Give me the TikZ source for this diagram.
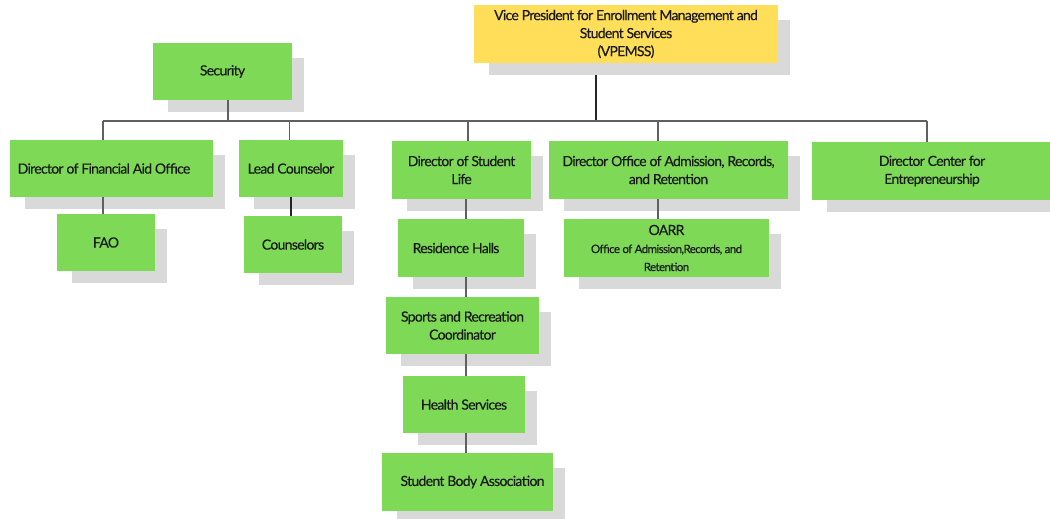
\documentclass[tikz,border=0pt]{standalone}
\usepackage{fontspec}
\setmainfont{Lato}[LetterSpace=-5,FakeBold=0.3]
\usetikzlibrary{calc}
\pgfdeclarelayer{bg}
\pgfdeclarelayer{back}
\pgfdeclarelayer{mid}
\pgfsetlayers{bg,back,mid,main}
\definecolor{boxgreen}{HTML}{7ED957}
\definecolor{boxyellow}{HTML}{FFDE59}
\definecolor{shadowc}{HTML}{D9D9D9}
\definecolor{linec}{HTML}{606060}
\definecolor{txtc}{HTML}{1A1A1A}
\newcommand\mainfs{\fontsize{14}{18}\selectfont}
\newcommand\subfs{\fontsize{11.5}{16}\selectfont}
\begin{document}
\begin{tikzpicture}[x=1pt,y=-1pt,
  box/.style={fill=boxgreen, draw=none, inner sep=0pt, align=center, font=\mainfs, text=txtc},
  conn/.style={draw=linec, line width=1.8pt},
  darkconn/.style={draw=black!85, line width=1.3pt},
  shadowbox/.style={fill=shadowc}]
\begin{pgfonlayer}{bg}
  \fill[white] (0,0) rectangle (1050,519);
\end{pgfonlayer}
\useasboundingbox (0,0) rectangle (1050,519);

\node[box, fill=boxyellow, minimum width=304pt, minimum height=58pt] (vp) at (626,34)
  {Vice President for Enrollment Management and\\Student Services\\(VPEMSS)};
\node[box, minimum width=139pt, minimum height=57pt] (sec) at (222.5,71.5) {\raisebox{-3pt}{Security}};
\node[box, minimum width=203pt, minimum height=57pt] (fin) at (111.5,168.5) {\hspace*{-15pt}Director of Financial Aid Office};
\node[box, minimum width=104pt, minimum height=57pt] (lead) at (291,168.5) {Lead Counselor};
\node[box, minimum width=139pt, minimum height=58pt] (life) at (461.5,170) {Director of Student\\Life};
\node[box, minimum width=239pt, minimum height=58pt] (adm) at (668.5,170) {Director Office of Admission, Records,\\and Retention};
\node[box, minimum width=240pt, minimum height=58pt] (ent) at (932,171) {Director Center for\\Entrepreneurship};
\node[box, minimum width=98pt, minimum height=57pt] (fao) at (106,242.5) {FAO};
\node[box, minimum width=98pt, minimum height=57pt] (coun) at (293,244.5) {Counselors};
\node[box, minimum width=126pt, minimum height=58pt] (res) at (461,248) {\hspace*{-10pt}Residence Halls};
\node[box, minimum width=205pt, minimum height=58pt] (oarr) at (666.5,248) {OARR\\{\subfs Office of Admission,Records, and}\\{\subfs Retention}};
\node[box, minimum width=153pt, minimum height=57pt] (sports) at (462.5,325.5) {Sports and Recreation\\Coordinator};
\node[box, minimum width=122pt, minimum height=57pt] (health) at (464,404.5) {Health Services};
\node[box, minimum width=171pt, minimum height=58pt] (sba) at (467.5,482) {\hspace*{10pt}Student Body Association};

\coordinate (bar) at (0,121);
\coordinate (vpBot) at ([xshift=-30pt]vp.south);
\coordinate (secBot) at ([xshift=5.5pt]sec.south);
\coordinate (finX) at ([xshift=-8.5pt]fin.north);
\coordinate (leadX) at ([xshift=-1.5pt]lead.north);
\coordinate (lifeX) at ([xshift=6.5pt]life.north);
\coordinate (lifeY) at ([xshift=4.5pt]life.south);
\coordinate (admX) at ([xshift=-10.5pt]adm.north);
\coordinate (entX) at ([xshift=-5pt]ent.north);

\begin{pgfonlayer}{back}
  \draw[darkconn] (vpBot) -- (vpBot |- bar);
  \foreach \n in {vp,sec,fin,lead,life,adm,ent,fao,coun,res,oarr,sports,health,sba}
    \fill[shadowbox] ($(\n.north west)+(15,15)$) rectangle ($(\n.south east)+(12,12)$);
\end{pgfonlayer}

\begin{pgfonlayer}{mid}
  \draw[conn] (finX |- bar) -- (entX |- bar);
  \draw[conn] (secBot) -- (secBot |- bar);
  \draw[conn] (finX |- bar) -- (finX);
  \draw[conn] (leadX |- bar) -- (leadX);
  \draw[conn] (lifeX |- bar) -- (lifeX);
  \draw[conn] (admX |- bar) -- (admX);
  \draw[conn] (entX |- bar) -- (entX);
  \draw[conn] (finX |- fin.south) -- (finX |- fao.north);
  \draw[darkconn] (lead.south) -- (lead.south |- coun.north);
  \draw[conn] (lifeY) -- (lifeY |- res.north);
  \draw[conn] (lifeY |- res.south) -- (lifeY |- sports.north);
  \draw[conn] (lifeY |- sports.south) -- (lifeY |- health.north);
  \draw[conn] (lifeY |- health.south) -- (lifeY |- sba.north);
  \draw[conn] (admX |- adm.south) -- (admX |- oarr.north);
\end{pgfonlayer}
\end{tikzpicture}
\end{document}
